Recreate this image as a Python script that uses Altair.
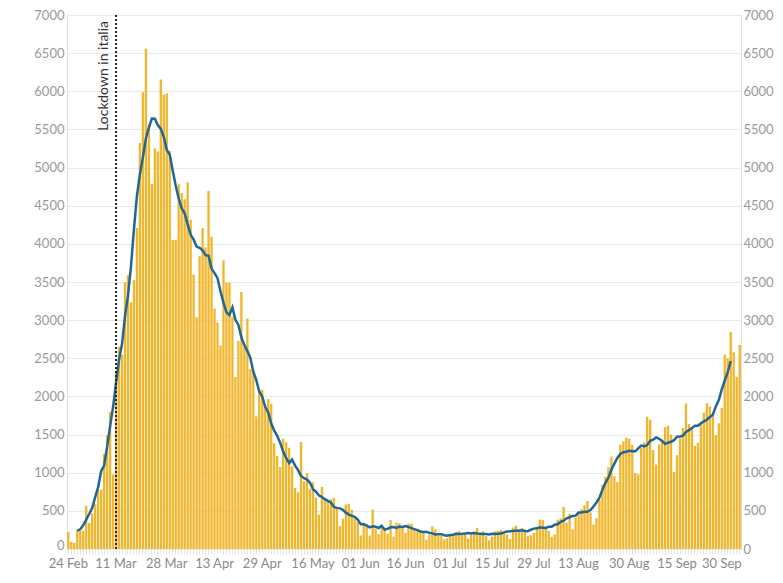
import altair as alt
import pandas as pd

# Daily new cases, Italy, 24 Feb 2020 -> 06 Oct 2020
feb = [221, 93, 78, 250, 238, 240]
mar = [566, 342, 466, 587, 769, 778, 1247, 1492, 1797, 977, 2313, 2651, 2547, 3497, 3590,
       3233, 3526, 4207, 5322, 5986, 6557, 5560, 4789, 5249, 5210, 6153, 5959, 5974, 5217,
       4050, 4053]
apr = [4782, 4668, 4585, 4805, 4316, 3599, 3039, 3836, 4204, 3951, 4694, 4092, 3153, 2972,
       2667, 3786, 3493, 3491, 3047, 2256, 2729, 3370, 2646, 3021, 2357, 2324, 1739, 2091,
       2086, 1872]
may = [1965, 1900, 1389, 1221, 1075, 1444, 1401, 1327, 1083, 802, 744, 1402, 888, 992, 789,
       875, 675, 451, 813, 665, 642, 652, 669, 531, 300, 397, 584, 593, 516, 416, 355]
jun = [178, 318, 321, 177, 518, 270, 197, 280, 283, 202, 379, 163, 346, 338, 301, 210, 329,
       333, 251, 262, 224, 218, 122, 190, 296, 259, 175, 174, 126, 142]
jul = [187, 201, 223, 235, 192, 208, 138, 193, 229, 276, 188, 234, 169, 114, 163, 230, 233,
       249, 218, 190, 129, 282, 306, 252, 275, 255, 170, 181, 212, 289, 386]
aug = [379, 295, 239, 159, 190, 384, 402, 552, 347, 463, 259, 412, 481, 523, 574, 629, 479,
       320, 403, 642, 845, 947, 1071, 1210, 953, 878, 1367, 1411, 1460, 1444, 1365]
sep = [996, 978, 1326, 1397, 1733, 1695, 1297, 1108, 1370, 1434, 1597, 1616, 1501, 1008,
       1229, 1452, 1585, 1907, 1638, 1587, 1350, 1392, 1640, 1786, 1912, 1869, 1766, 1494,
       1648, 1851]
octo = [2548, 2499, 2844, 2578, 2257, 2677]

cases = feb + mar + apr + may + jun + jul + aug + sep + octo
start_date = "2020-02-24"
dates = pd.date_range(start_date, periods=len(cases), freq="D").strftime("%Y-%m-%d").tolist()

tick_dates = ["2020-02-24", "2020-03-11", "2020-03-28", "2020-04-13", "2020-04-29",
              "2020-05-16", "2020-06-01", "2020-06-16", "2020-07-01", "2020-07-15",
              "2020-07-29", "2020-08-13", "2020-08-30", "2020-09-15", "2020-09-30"]
y_ticks = list(range(0, 7001, 500))

lockdown_date = ["2020-03-11"]
lockdown_label = ["Lockdown in italia"]

df = pd.DataFrame({"date": dates, "cases": cases})
ann = pd.DataFrame({"date": lockdown_date, "label": lockdown_label})

arr = "[" + ",".join("'" + d + "'" for d in tick_dates) + "]"
label_expr = f"indexof({arr}, datum.value) >= 0 ? utcFormat(toDate(datum.value), '%d %b') : ''"

x_enc = alt.X(
    "date:O",
    sort="ascending",
    scale=alt.Scale(paddingInner=0.22, paddingOuter=0.05),
    axis=alt.Axis(title=None, labelExpr=label_expr, labelAngle=0, labelOverlap=False,
                  ticks=True, tickColor="#e4e4e4", tickSize=5, domain=False,
                  labelColor="#8a8a8a", labelFontSize=13, labelPadding=3),
)
y_scale = alt.Scale(domain=[0, 7000], nice=False)

zero_base = {"condition": {"test": "datum.value == 0", "value": "alphabetic"}, "value": "middle"}

bars = alt.Chart(df).mark_bar(color="#F2B62C").encode(
    x=x_enc,
    y=alt.Y("cases:Q", scale=y_scale,
            axis=alt.Axis(title=None, orient="left", values=y_ticks, format="d", grid=True,
                          gridColor="#e9e9e9", ticks=False, domain=False,
                          labelBaseline=zero_base,
                          labelColor="#9a9a9a", labelFontSize=13, labelPadding=3)),
)

line = alt.Chart(df).transform_window(
    ma="mean(cases)", n="count()", frame=[-3, 3], sort=[alt.SortField("date")]
).transform_filter("datum.n == 7").mark_line(color="#1F6796", strokeWidth=2.5).encode(
    x=x_enc,
    y=alt.Y("ma:Q", scale=y_scale,
            axis=alt.Axis(title=None, orient="right", values=y_ticks, format="d", grid=False,
                          ticks=False, domain=False, labelColor="#9a9a9a",
                          labelFontSize=13, labelPadding=2)),
)

rule = alt.Chart(ann).mark_rule(color="#222222", strokeDash=[2, 2], strokeWidth=2).encode(
    x=x_enc,
)

text = alt.Chart(ann).mark_text(angle=270, align="right", baseline="bottom", dx=-6, dy=-5,
                                fontSize=14, color="#333333").encode(
    x=x_enc,
    y=alt.YDatum(7000, axis=None, scale=y_scale),
    text="label:N",
)

chart = alt.layer(bars, line, rule, text).resolve_axis(y="independent").properties(
    width=674, height=534,
    autosize=alt.AutoSizeParams(type="none"),
    padding={"left": 59, "top": 7, "right": 34, "bottom": 22},
).configure_view(stroke=None).configure(font="Lato")

chart.save("out.html", embed_options={"renderer": "svg", "actions": False})
